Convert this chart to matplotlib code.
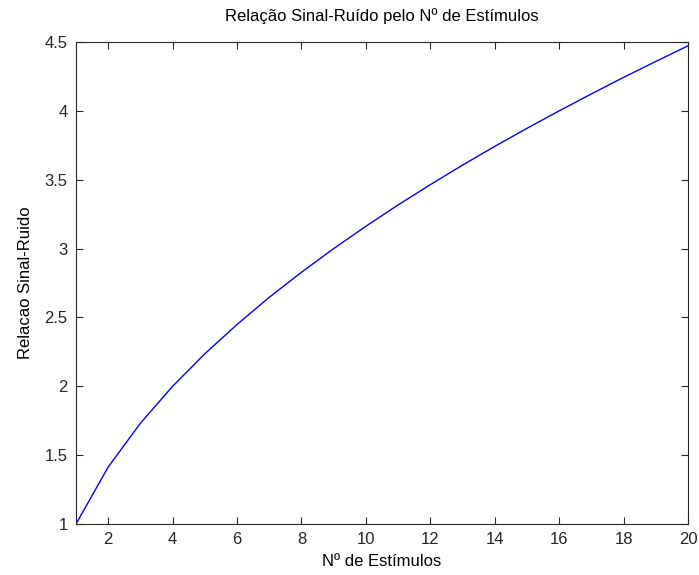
import matplotlib
matplotlib.use("Agg")
import matplotlib.pyplot as plt

plt.rcParams["font.family"] = ["Liberation Sans", "DejaVu Sans"]

n_estimulos = list(range(1, 21))
snr = [1.000, 1.414, 1.732, 2.000, 2.236, 2.449, 2.646, 2.828, 3.000, 3.162,
       3.317, 3.464, 3.606, 3.742, 3.873, 4.000, 4.123, 4.243, 4.359, 4.472]
xticks = list(range(2, 21, 2))
yticks = [1, 1.5, 2, 2.5, 3, 3.5, 4, 4.5]
ytick_labels = ["1", "1.5", "2", "2.5", "3", "3.5", "4", "4.5"]

fig = plt.figure(figsize=(6.99, 5.75), dpi=100, facecolor="white")
ax = fig.add_axes([76/699, 1 - 524/575, 612/699, 482/575])
ax.plot(n_estimulos, snr, color="#0000ff", linewidth=1.0)

ax.set_xlim(1, 20)
ax.set_ylim(1, 4.5)
ax.set_xticks(xticks)
ax.set_yticks(yticks)
ax.set_yticklabels(ytick_labels)
ax.tick_params(direction="in", top=True, right=True, length=5, width=0.8,
               labelsize=12, colors="#262626", pad=6)
for s in ax.spines.values():
    s.set_linewidth(0.8)
    s.set_color("#262626")

ax.set_title("Relação Sinal-Ruído pelo Nº de Estímulos", fontsize=12, pad=15)
ax.set_xlabel("Nº de Estímulos", fontsize=12, labelpad=5)
ax.set_ylabel("Relacao Sinal-Ruido", fontsize=12, labelpad=8)

fig.savefig("out.png", dpi=100)
